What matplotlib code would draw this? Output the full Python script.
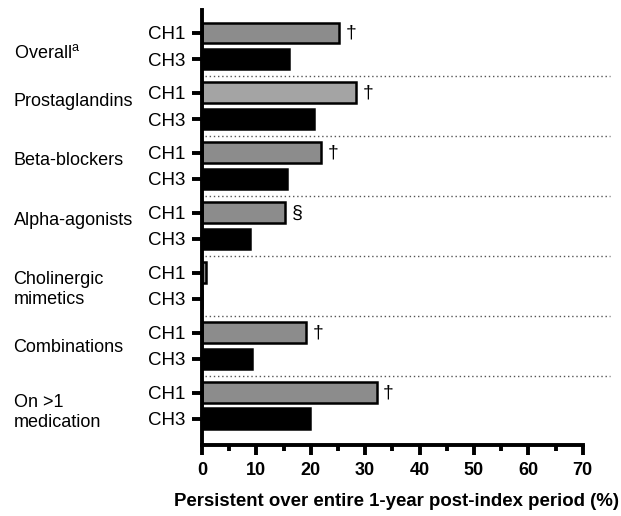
import matplotlib
matplotlib.use("Agg")
import matplotlib.pyplot as plt
import numpy as np

plt.rcParams["font.family"] = ["Liberation Sans", "DejaVu Sans"]

# --- data ---
groups = ["Overall$^{\\mathregular{a}}$", "Prostaglandins", "Beta-blockers",
          "Alpha-agonists", "Cholinergic\nmimetics", "Combinations",
          "On >1\nmedication"]
ch1 = [25.2, 28.3, 21.9, 15.3, 0.7, 19.1, 32.1]
ch3 = [16.0, 20.6, 15.7, 8.8, 0.0, 9.2, 19.8]
marks = ["\u2020", "\u2020", "\u2020", "\u00a7", "", "\u2020", "\u2020"]
ch1_colors = ["#8c8c8c", "#a4a4a4", "#8c8c8c", "#8c8c8c", "#8c8c8c",
              "#8c8c8c", "#8c8c8c"]

# --- layout ---
step = 2.3
y1 = np.arange(len(groups)) * step
y3 = y1 + 1
label_shift = [0.25, -0.18, -0.2, -0.2, 0.15, 0.08, 0.25]

fig = plt.figure(figsize=(6.21, 5.16), dpi=100)
ax = fig.add_axes([202 / 621, 1 - 445 / 516, 380.7 / 621, 435 / 516])

ax.barh(y1, ch1, height=0.8, color=ch1_colors, edgecolor="black", linewidth=1.8)
ax.barh(y3, ch3, height=0.8, color="black", edgecolor="black", linewidth=1.8)

for y, v, m in zip(y1, ch1, marks):
    if m:
        ax.text(v + 1.2, y, m, ha="left", va="center", fontsize=14)

# dotted separators between groups, running past the axis end
for y in y1[:-1] + 1.65:
    ax.plot([0.5, 75], [y, y], color="#555555", linestyle=(0, (1, 2)),
            linewidth=1, clip_on=False)

ax.set_xlim(0, 70)
ax.set_ylim(y3[-1] + 1, -0.88)

ax.set_yticks(np.concatenate([y1, y3]))
ax.set_yticklabels(["CH1"] * len(y1) + ["CH3"] * len(y3), fontsize=13.5)
ax.set_xticks(np.arange(0, 71, 10))
ax.set_xticks(np.arange(5, 70, 10), minor=True)
ax.set_xticklabels([str(v) for v in range(0, 71, 10)], fontsize=13,
                   fontweight="bold")

for s in ["top", "right"]:
    ax.spines[s].set_visible(False)
for s in ["left", "bottom"]:
    ax.spines[s].set_linewidth(2.8)

ax.tick_params(axis="y", length=7, width=2.8, pad=5)
ax.tick_params(axis="x", which="major", length=7, width=2.8, pad=5)
ax.tick_params(axis="x", which="minor", length=4, width=2.8)

ax.set_xlabel("Persistent over entire 1-year post-index period (%)",
              fontsize=13.4, fontweight="bold")
ax.xaxis.set_label_coords(0.51, -0.11)

# group labels at the left
for g, a, b, d in zip(groups, y1, y3, label_shift):
    ax.text(-0.495, (a + b) / 2 + d, g, transform=ax.get_yaxis_transform(),
            ha="left", va="center", fontsize=13, linespacing=1.25)

fig.savefig("out.png", dpi=100)
